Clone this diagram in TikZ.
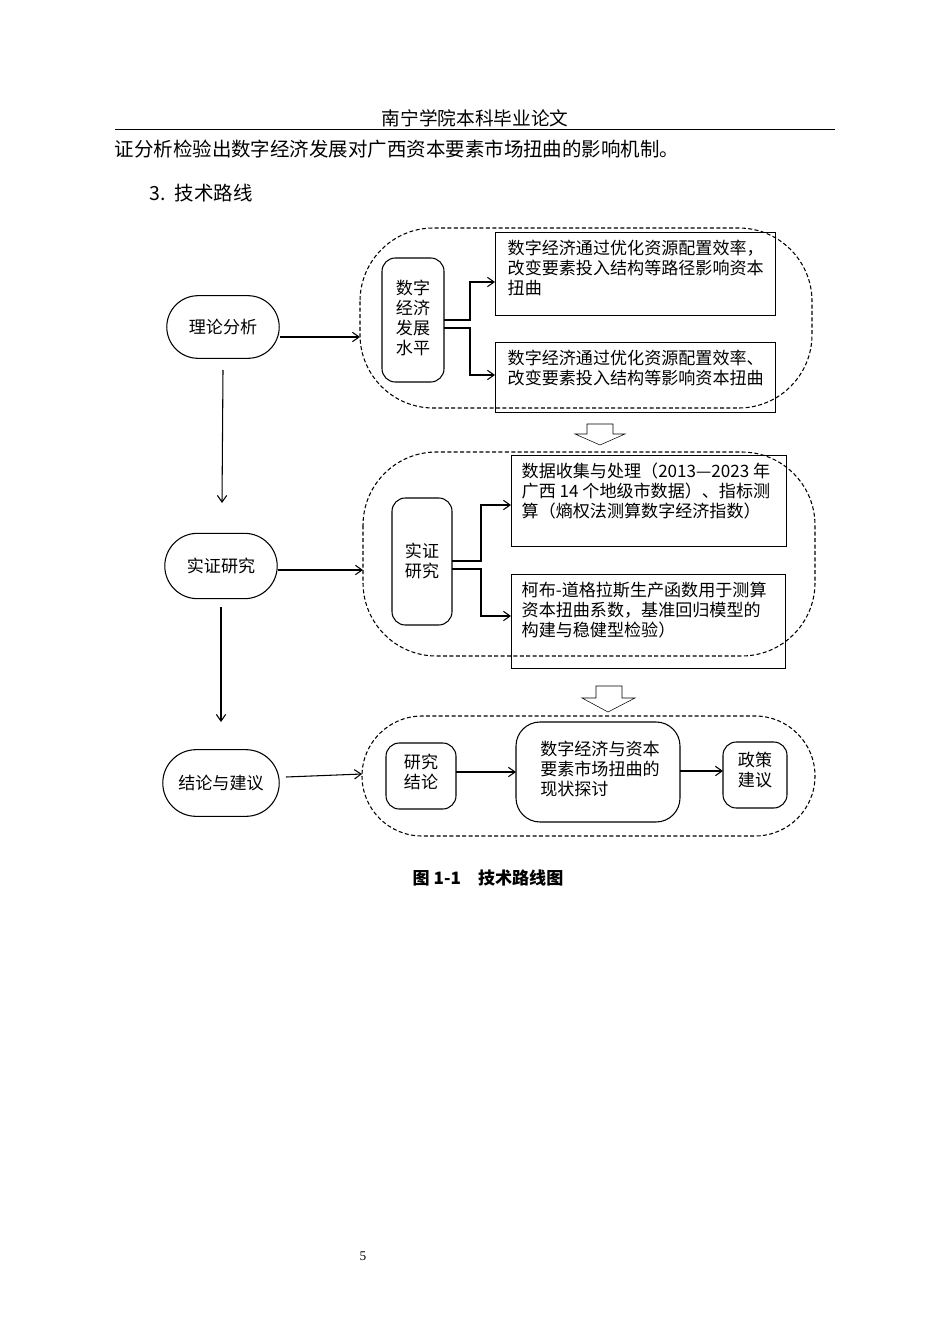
\documentclass[tikz,border=0pt]{standalone}
\usepackage{fontspec}
\setmainfont{Liberation Serif}
\newfontfamily\cjk{Noto Sans CJK SC}
\usetikzlibrary{arrows.meta,shapes.misc}
\begin{document}
\begin{tikzpicture}[x=0.75pt,y=-0.75pt,
 every node/.style={font=\cjk\fontsize{12.8}{15}\selectfont},
 oval/.style={draw,thick,rounded rectangle,minimum width=91pt,minimum height=47pt},
 rbox/.style={draw,thick,rounded corners=10pt},
 tbox/.style={draw,thin},
 dbox/.style={draw,thick,dash pattern=on 3pt off 1.8pt,rounded corners=55pt},
 arr/.style={-{Straight Barb[length=5pt,width=7pt]},thick},
 blk/.style={draw,thin,fill=white}]
\useasboundingbox (0,0) rectangle (950,1344);
\node (hdr) at (475,118) {\fontsize{14}{16}\selectfont 南宁学院本科毕业论文};
\coordinate (l1) at (115,129); \coordinate (l2) at (835,129);
\draw (l1) -- (l2);
\node[anchor=west] (body) at (110,149) {\fontsize{14.6}{18}\selectfont 证分析检验出数字经济发展对广西资本要素市场扭曲的影响机制。};
\node[anchor=west] (sec) at (145,193) {\fontsize{14.6}{18}\selectfont 3.\ \ 技术路线};
% left
\node[oval] (t) at (223,327) {理论分析};
\node[oval,minimum height=49pt] (e) at (221,566) {实证研究};
\node[oval,minimum width=94pt,minimum height=50pt] (c) at (221,783) {结论与建议};
\coordinate (ve1) at (222,503); \coordinate (ve2) at (221,722);
\draw[arr] (223,370) -- (ve1);
\draw[arr] (221,607) -- (ve2);
% dashed boxes
\draw[dbox] (360,228) rectangle (812,408);
\draw[dbox] (363,452) rectangle (815,656);
\draw[dbox,rounded corners=45pt] (362,716) rectangle (815,836);
\coordinate (d1) at (360,337); \coordinate (d2) at (363,570); \coordinate (d3) at (362,774);
\draw[arr] (t.east|-d1) -- (d1);
\draw[arr] (e.east|-d2) -- (d2);
\draw[arr] (286,777) -- (d3);
% section 1
\draw[rbox] (382,258) rectangle (444,382);
\node[align=center] (n1) at (413,318) {数字\\经济\\发展\\水平};
\draw[tbox] (495,232) rectangle (775,315);
\node[anchor=north west,align=left] (A) at (503,235) {数字经济通过优化资源配置效率，\\改变要素投入结构等路径影响资本\\扭曲};
\draw[tbox] (495,342) rectangle (775,412);
\node[anchor=north west,align=left] (B) at (503,345) {数字经济通过优化资源配置效率、\\改变要素投入结构等影响资本扭曲};
\draw[arr] (444,320) -- (470,320) -- (470,282) -- (495,282);
\draw[arr] (444,328) -- (470,328) -- (470,375) -- (495,375);
% block arrow 1
\draw[blk] (587,424) -- (613,424) -- (613,434) -- (625,434) -- (600,445) -- (575,434) -- (587,434) -- cycle;
% section 2
\draw[rbox] (392,498) rectangle (452,625);
\node[align=center] (n2) at (422,561) {实证\\研究};
\draw[tbox] (511,455) rectangle (786,546);
\node[anchor=north west,align=left] (C) at (517,458) {数据收集与处理（2013—2023 年\\广西 14 个地级市数据）、指标测\\算（熵权法测算数字经济指数）};
\draw[tbox] (511,574) rectangle (785,668);
\node[anchor=north west,align=left] (D) at (517,577) {柯布-道格拉斯生产函数用于测算\\资本扭曲系数，基准回归模型的\\构建与稳健型检验）};
\draw[arr] (452,561) -- (481,561) -- (481,505) -- (511,505);
\draw[arr] (452,569) -- (481,569) -- (481,616) -- (511,616);
% block arrow 2
\draw[blk] (596,686) -- (622,686) -- (622,698) -- (635,698) -- (608,712) -- (582,698) -- (596,698) -- cycle;
% section 3
\draw[rbox] (386,743) rectangle (456,809);
\node[align=center] (r) at (421,772) {研究\\结论};
\draw[rbox,rounded corners=18pt] (516,722) rectangle (680,822);
\node[align=left] (m) at (600,769) {数字经济与资本\\要素市场扭曲的\\现状探讨};
\draw[rbox] (723,742) rectangle (787,808);
\node[align=center] (p) at (755,770) {政策\\建议};
\draw[arr] (456,772) -- (516,772);
\draw[arr] (680,771) -- (723,771);
\node (cap) at (488,878) {\bfseries 图 1-1\quad 技术路线图};
\node (pg) at (363,1256) {\rmfamily\fontsize{10}{12}\selectfont 5};
\end{tikzpicture}
\end{document}
